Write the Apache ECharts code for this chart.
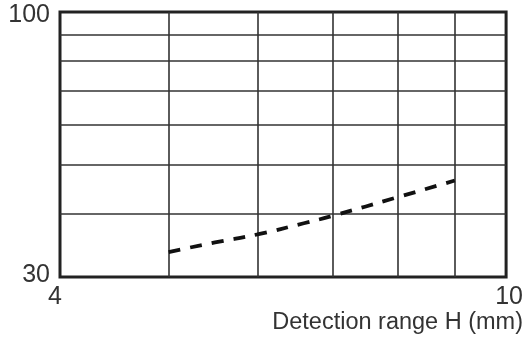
<!DOCTYPE html>
<html>
<head>
<meta charset="utf-8">
<script src="https://cdn.jsdelivr.net/npm/echarts@6/dist/echarts.min.js"></script>
<style>
html,body{margin:0;padding:0;background:#fff;}
#chart{width:526px;height:340px;}
</style>
</head>
<body>
<div id="chart"></div>
<script>
const xLabelValues = [4, 10];
const yLabelValues = [30, 100];
const xGridValues = [5, 6, 7, 8, 9];
const yGridValues = [40, 50, 60, 70, 80, 90];
const rangeH = [5, 5.5, 6, 6.6, 7, 8, 9];
const response = [33.6, 35.1, 36.4, 38.3, 39.6, 43.1, 46.5];
const xAxisTitle = 'Detection range H (mm)';

const FONT = 'Liberation Sans, Arial, sans-serif';
const numStyle = {fontFamily: FONT, fontSize: 25, color: '#333'};
const chart = echarts.init(document.getElementById('chart'));
chart.setOption({
  animation: false,
  backgroundColor: '#fff',
  title: {
    text: xAxisTitle,
    right: 3,
    top: 311,
    padding: 0,
    textStyle: {fontFamily: FONT, fontSize: 23.5, fontWeight: 'normal', color: '#333'}
  },
  grid: {
    left: 60, top: 12, width: 447, height: 265,
    show: true, borderColor: '#222', borderWidth: 3, backgroundColor: 'transparent'
  },
  xAxis: {
    type: 'log', logBase: 10, min: 4, max: 10,
    axisLine: {show: false},
    axisTick: {show: false, customValues: xGridValues},
    splitLine: {show: true, lineStyle: {color: '#333', width: 1.6}},
    axisLabel: {
      customValues: xLabelValues, margin: 8,
      showMinLabel: true, showMaxLabel: true,
      formatter: v => (v < 5 ? '{lo|' + v + '}' : '{hi|' + v + '}'),
      rich: {
        lo: Object.assign({padding: [0, 10, 0, 0]}, numStyle),
        hi: Object.assign({padding: [0, 0, 0, 6]}, numStyle)
      }
    }
  },
  yAxis: {
    type: 'log', logBase: 10, min: 30, max: 100,
    axisLine: {show: false},
    axisTick: {show: false, customValues: yGridValues},
    splitLine: {show: true, lineStyle: {color: '#333', width: 1.6}},
    axisLabel: {
      customValues: yLabelValues, margin: 10,
      showMinLabel: true, showMaxLabel: true,
      formatter: v => (v < 50 ? '{lo|' + v + '}' : '{hi|' + v + '}'),
      rich: {
        lo: Object.assign({padding: [0, 0, 4, 0]}, numStyle),
        hi: Object.assign({padding: [7, 0, 0, 0]}, numStyle)
      }
    }
  },
  series: [{
    type: 'line',
    data: rangeH.map((x, i) => [x, response[i]]),
    smooth: true,
    showSymbol: false,
    lineStyle: {color: '#111', width: 3.8, type: [12, 10]},
    z: 5
  }]
});
</script>
</body>
</html>
